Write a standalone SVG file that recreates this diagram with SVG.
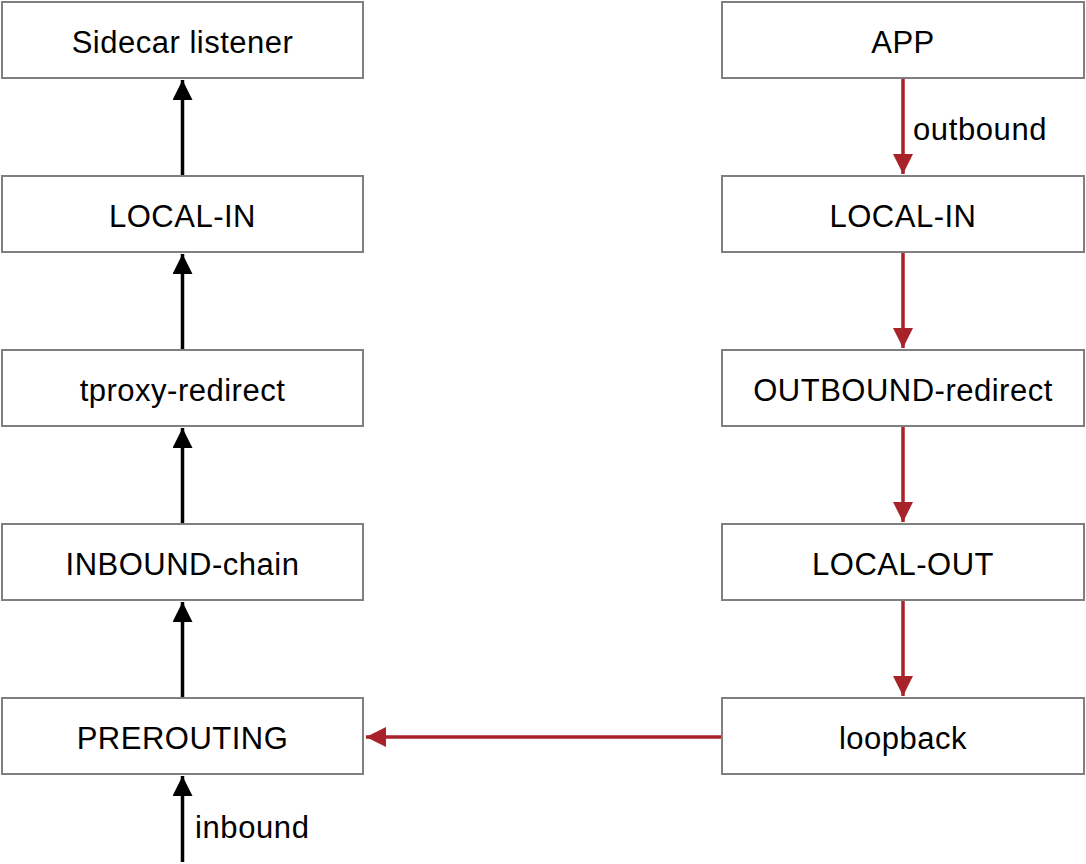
<svg xmlns="http://www.w3.org/2000/svg" width="1086" height="864" viewBox="0 0 1086 864">
<style>
.box{fill:#fff;stroke:#7f7f7f;stroke-width:2}
.t{font-family:"Liberation Sans",Arial,sans-serif;font-size:31px;letter-spacing:0.5px;fill:#000;text-anchor:middle;dominant-baseline:central}
.l{font-family:"Liberation Sans",Arial,sans-serif;font-size:31px;letter-spacing:0.6px;fill:#000}
.k{stroke:#000;stroke-width:3.5;fill:none}
.r{stroke:#a8222a;stroke-width:3.5;fill:none}
</style>
<defs>
<marker id="ak" viewBox="0 0 10 10" refX="10" refY="5" markerUnits="userSpaceOnUse" markerWidth="26" markerHeight="20" orient="auto"><path d="M0,0L10,5L0,10z" fill="#000"/></marker>
<marker id="ar" viewBox="0 0 10 10" refX="10" refY="5" markerUnits="userSpaceOnUse" markerWidth="26" markerHeight="20" orient="auto"><path d="M0,0L10,5L0,10z" fill="#a8222a"/></marker>
</defs>
<rect width="1086" height="864" fill="#fff"/>
<g id="connectors">
<path class="k" d="M182.5,176V80" marker-end="url(#ak)"/>
<path class="k" d="M182.5,350V254" marker-end="url(#ak)"/>
<path class="k" d="M182.5,524V428" marker-end="url(#ak)"/>
<path class="k" d="M182.5,698V602" marker-end="url(#ak)"/>
<path class="k" d="M182.5,862V776" marker-end="url(#ak)"/>
<path class="r" d="M903,78V174" marker-end="url(#ar)"/>
<path class="r" d="M903,252V348" marker-end="url(#ar)"/>
<path class="r" d="M903,426V522" marker-end="url(#ar)"/>
<path class="r" d="M903,600V696" marker-end="url(#ar)"/>
<path class="r" d="M722,737H366" marker-end="url(#ar)"/>
<text class="l" x="913" y="140">outbound</text>
<text class="l" x="195" y="838">inbound</text>
</g>
<g id="sidecar"><rect class="box" x="2" y="2" width="361" height="76"/><text class="t" x="182.5" y="42">Sidecar listener</text></g>
<g id="localin-l"><rect class="box" x="2" y="176" width="361" height="76"/><text class="t" x="182.5" y="216">LOCAL-IN</text></g>
<g id="tproxy"><rect class="box" x="2" y="350" width="361" height="76"/><text class="t" x="182.5" y="390">tproxy-redirect</text></g>
<g id="inbound-chain"><rect class="box" x="2" y="524" width="361" height="76"/><text class="t" x="182.5" y="564">INBOUND-chain</text></g>
<g id="prerouting"><rect class="box" x="2" y="698" width="361" height="76"/><text class="t" x="182.5" y="738">PREROUTING</text></g>
<g id="app"><rect class="box" x="722" y="2" width="362" height="76"/><text class="t" x="903" y="42">APP</text></g>
<g id="localin-r"><rect class="box" x="722" y="176" width="362" height="76"/><text class="t" x="903" y="216">LOCAL-IN</text></g>
<g id="outbound-redirect"><rect class="box" x="722" y="350" width="362" height="76"/><text class="t" x="903" y="390">OUTBOUND-redirect</text></g>
<g id="localout"><rect class="box" x="722" y="524" width="362" height="76"/><text class="t" x="903" y="564">LOCAL-OUT</text></g>
<g id="loopback"><rect class="box" x="722" y="698" width="362" height="76"/><text class="t" x="903" y="738">loopback</text></g>
</svg>
